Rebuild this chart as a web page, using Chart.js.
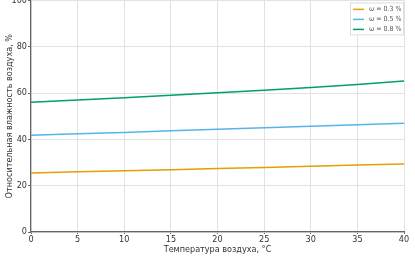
<!DOCTYPE html>
<html>
<head>
<meta charset="utf-8">
<script src="https://cdn.jsdelivr.net/npm/chart.js@4"></script>
<style>
    html, body { margin: 0; padding: 0; background: #fff; overflow: hidden; }
    #wrap { position: relative; width: 415px; height: 267px; margin-top: -6px; }
</style>
</head>
<body>
<div id="wrap"><canvas id="chart"></canvas></div>
<script>
// Data
const temps = [0, 5, 10, 15, 20, 25, 30, 35, 40];
const rh03 = [25.5, 26.0, 26.4, 26.9, 27.4, 27.9, 28.4, 28.9, 29.4];
const rh05 = [41.8, 42.4, 43.0, 43.7, 44.4, 45.0, 45.7, 46.3, 47.0];
const rh08 = [56.0, 57.0, 58.0, 59.0, 60.1, 61.2, 62.4, 63.7, 65.2];
const seriesLabels = ['ω = 0.3 %', 'ω = 0.5 %', 'ω = 0.8 %'];
const seriesColors = ['#E69F00', '#56B4E9', '#009E73'];
const xTicks = [0, 5, 10, 15, 20, 25, 30, 35, 40];
const yTicks = [0, 20, 40, 60, 80, 100];

const FONT = "'Liberation Sans Narrow', 'DejaVu Sans Condensed', sans-serif";

// Boxed legend in the top right corner of the plot
const boxLegend = {
    id: 'boxLegend',
    afterDraw(chart) {
        const ctx = chart.ctx;
        const a = chart.chartArea;
        const w = 54, h = 33;
        const x0 = a.right - w, y0 = a.top + 2;
        ctx.save();
        ctx.fillStyle = 'rgba(255,255,255,0.9)';
        ctx.fillRect(x0, y0, w, h);
        ctx.strokeStyle = '#dcdcdc';
        ctx.lineWidth = 1;
        ctx.strokeRect(x0 + 0.5, y0 + 0.5, w - 1, h - 1);
        ctx.font = `7px ${FONT}`;
        ctx.textBaseline = 'middle';
        chart.data.datasets.forEach((ds, i) => {
            const y = y0 + 7 + i * 10;
            ctx.strokeStyle = ds.borderColor;
            ctx.lineWidth = 1.5;
            ctx.beginPath();
            ctx.moveTo(x0 + 3, y);
            ctx.lineTo(x0 + 14, y);
            ctx.stroke();
            ctx.fillStyle = '#555';
            ctx.fillText(ds.label, x0 + 19, y);
        });
        ctx.restore();
    }
};

const datasets = [rh03, rh05, rh08].map((vals, i) => ({
    label: seriesLabels[i],
    data: temps.map((t, j) => ({ x: t, y: vals[j] })),
    borderColor: seriesColors[i],
    borderWidth: 1.5,
    pointRadius: 0,
    fill: false,
    tension: 0
}));

new Chart(document.getElementById('chart'), {
    type: 'line',
    data: { datasets },
    options: {
        responsive: true, maintainAspectRatio: false, animation: false,
        layout: { padding: { left: 0, right: 11, top: 0, bottom: 0 } },
        plugins: { legend: { display: false }, tooltip: { enabled: false } },
        scales: {
            x: {
                type: 'linear', min: 0, max: 40,
                afterBuildTicks: s => { s.ticks = xTicks.map(v => ({ value: v })); },
                afterFit: s => { s.height = 29; },
                grid: { color: '#e2e2e2', tickColor: '#666', tickLength: 2, drawTicks: true },
                border: { color: '#666', width: 1.2 },
                ticks: { color: '#333', padding: 0, maxRotation: 0, font: { family: FONT, size: 9 } },
                title: { display: true, text: 'Температура воздуха, °С', color: '#333', padding: { top: 1, bottom: 6 }, font: { family: FONT, size: 9 } }
            },
            y: {
                min: 0, max: 100,
                afterBuildTicks: s => { s.ticks = yTicks.map(v => ({ value: v })); },
                afterFit: s => { s.width = 31; },
                grid: { color: '#e2e2e2', tickColor: '#666', tickLength: 3 },
                border: { color: '#666', width: 1.2 },
                ticks: { color: '#333', padding: 1, font: { family: FONT, size: 9 } },
                title: { display: true, text: 'Относительная влажность воздуха, %', color: '#333', padding: { top: 4, bottom: 0 }, font: { family: FONT, size: 9 } }
            }
        }
    },
    plugins: [boxLegend]
});
</script>
</body>
</html>
